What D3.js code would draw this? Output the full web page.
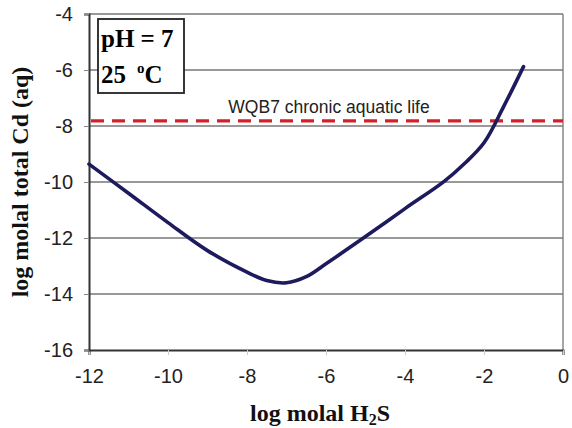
<!DOCTYPE html>
<html>
<head>
<meta charset="utf-8">
<style>
  body { margin: 0; background: #fff; }
  svg { display: block; }
</style>
</head>
<body>
<div id="chart"></div>
<script src="https://d3js.org/d3.v7.min.js"></script>
<script>
// log molal H2S vs log molal total Cd(aq)
const logH2S = [-12, -11, -10, -9, -8, -7.5, -7, -6.5, -6, -5, -4, -3, -2.5, -2, -1.5, -1];
const logCd  = [-9.36, -10.4, -11.45, -12.45, -13.22, -13.52, -13.6, -13.38, -12.92, -11.95, -10.95, -9.97, -9.35, -8.6, -7.3, -5.88];
const xTicks = [-12, -10, -8, -6, -4, -2, 0];
const yTicks = [-4, -6, -8, -10, -12, -14, -16];
const wqbLimit = -7.82;
const wqbLabel = "WQB7 chronic aquatic life";

const width = 572, height = 428;
const margin = { top: 14, right: 9, bottom: 78, left: 89 };
const w = width - margin.left - margin.right;
const h = height - margin.top - margin.bottom;

const svg = d3.select("#chart").append("svg")
    .attr("width", width)
    .attr("height", height);

const g = svg.append("g")
    .attr("transform", `translate(${margin.left},${margin.top})`);

const x = d3.scaleLinear().domain([-12, 0]).range([0, w]);
const y = d3.scaleLinear().domain([-16, -4]).range([h, 0]);

// horizontal gridlines
g.selectAll(".grid")
  .data(yTicks.filter(v => v > -16))
  .enter().append("line")
    .attr("x1", 0).attr("x2", w)
    .attr("y1", d => y(d)).attr("y2", d => y(d))
    .attr("stroke", "#777")
    .attr("stroke-width", 1.3);

// right border
g.append("line")
    .attr("x1", w).attr("x2", w).attr("y1", 0).attr("y2", h)
    .attr("stroke", "#777").attr("stroke-width", 1.3);

// axes (plain hyphen minus like the original)
const fmt = d => String(d);
const xAxis = d3.axisBottom(x).tickValues(xTicks).tickSize(5).tickPadding(19).tickFormat(fmt);
const yAxis = d3.axisLeft(y).tickValues(yTicks).tickSize(5).tickPadding(11).tickFormat(fmt);

const gx = g.append("g").attr("transform", `translate(0,${h})`).call(xAxis);
const gy = g.append("g").call(yAxis);

gx.select(".domain").attr("stroke", "#333").attr("stroke-width", 2);
gy.select(".domain").attr("stroke", "#333").attr("stroke-width", 2);
gx.selectAll(".tick line").attr("stroke", "#ccc");
gy.selectAll(".tick line").attr("stroke", "#888");
[gx, gy].forEach(a => a.selectAll(".tick text")
    .attr("fill", "#222")
    .style("font-family", "'Liberation Sans', Arial, sans-serif")
    .style("font-size", "20px"));
gx.selectAll(".tick text").attr("dy", "0.45em");

// WQB7 line
g.append("line")
    .attr("x1", x(-12) + 2).attr("x2", w)
    .attr("y1", y(wqbLimit)).attr("y2", y(wqbLimit))
    .attr("stroke", "#d42029")
    .attr("stroke-width", 3.2)
    .attr("stroke-dasharray", "13,8");

g.append("text")
    .attr("x", 329 - margin.left)
    .attr("y", y(wqbLimit) - 8)
    .attr("text-anchor", "middle")
    .attr("fill", "#222")
    .style("font-family", "'Liberation Sans', Arial, sans-serif")
    .style("font-size", "17.5px")
    .text(wqbLabel);

// curve
const pts = logH2S.map((v, i) => [v, logCd[i]]);
g.append("path")
    .datum(pts)
    .attr("fill", "none")
    .attr("stroke", "#1d1b5e")
    .attr("stroke-width", 3.6)
    .attr("stroke-linecap", "round")
    .attr("d", d3.line().x(d => x(d[0])).y(d => y(d[1])).curve(d3.curveCatmullRom.alpha(0.5)));

// conditions box
const box = g.append("g").attr("transform", "translate(9,5)");
box.append("rect")
    .attr("width", 86).attr("height", 74)
    .attr("fill", "#fff")
    .attr("stroke", "#222")
    .attr("stroke-width", 1.8);
const serif = "'Liberation Serif', 'Times New Roman', serif";
box.append("text")
    .attr("x", 3).attr("y", 28)
    .style("font-family", serif).style("font-size", "25px").style("font-weight", "bold")
    .text("pH = 7");
const t2 = box.append("text")
    .attr("x", 3).attr("y", 64)
    .style("font-family", serif).style("font-size", "25px").style("font-weight", "bold");
t2.append("tspan").text("25");
t2.append("tspan").attr("dx", 11).attr("dy", -10).style("font-size", "15px").text("o");
t2.append("tspan").attr("dy", 10).text("C");

// axis titles
const xt = svg.append("text")
    .attr("x", 320)
    .attr("y", 421)
    .attr("text-anchor", "middle")
    .attr("fill", "#111")
    .style("font-family", serif).style("font-size", "24px").style("font-weight", "bold");
xt.append("tspan").text("log molal H");
xt.append("tspan").attr("dy", 4).style("font-size", "16px").text("2");
xt.append("tspan").attr("dy", -4).text("S");

svg.append("text")
    .attr("transform", `translate(28,${margin.top + h / 2}) rotate(-90)`)
    .attr("text-anchor", "middle")
    .attr("fill", "#111")
    .style("font-family", serif).style("font-size", "24px").style("font-weight", "bold")
    .text("log molal total Cd (aq)");
</script>
</body>
</html>
